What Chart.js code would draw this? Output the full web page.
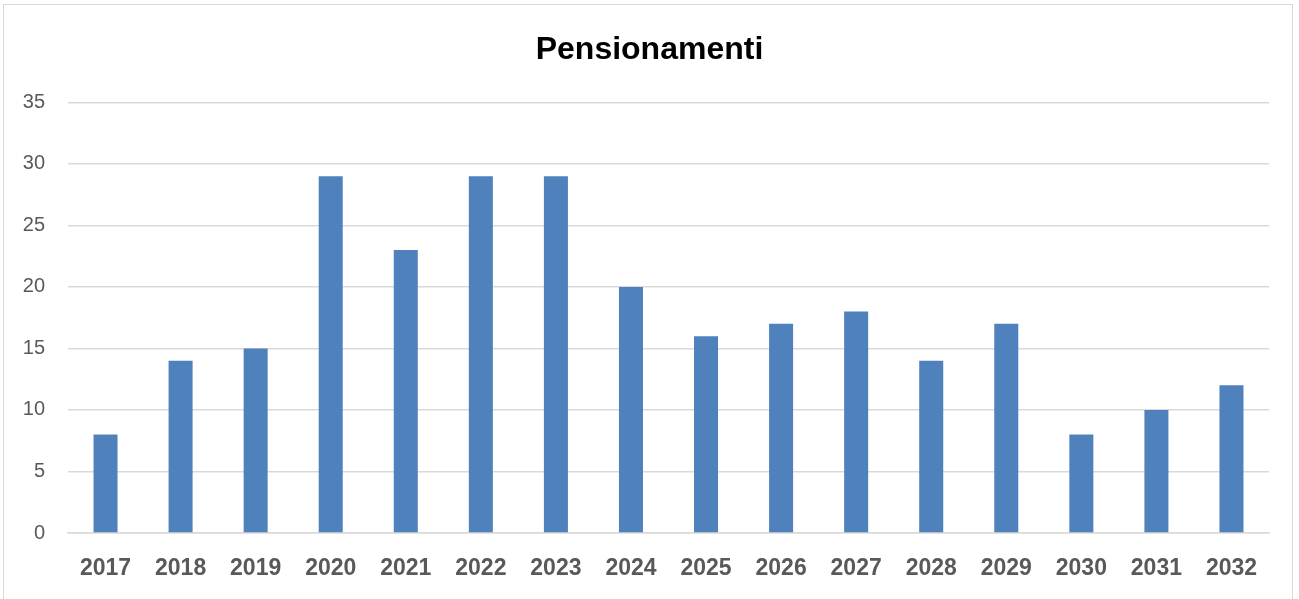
<!DOCTYPE html>
<html>
<head>
<meta charset="utf-8">
<script src="https://cdn.jsdelivr.net/npm/chart.js@4/dist/chart.umd.min.js"></script>
<style>
    html, body { margin: 0; padding: 0; background: #fff; overflow: hidden; }
    #wrap { position: relative; width: 1299px; height: 599px; }
    #frame { position: absolute; left: 3px; top: 4px; width: 1288px; height: 640px; border: 1px solid #d9d9d9; }
    #myChart { position: absolute; left: 0; top: 0; }
</style>
</head>
<body>
<div id="wrap">
    <div id="frame"></div>
    <canvas id="myChart" width="1299" height="599"></canvas>
</div>
<script>
/* data
 -----------------------------------------------*/
let years = ['2017', '2018', '2019', '2020', '2021', '2022', '2023', '2024',
    '2025', '2026', '2027', '2028', '2029', '2030', '2031', '2032'];
let pensionamenti = [8, 14, 15, 29, 23, 29, 29, 20, 16, 17, 18, 14, 17, 8, 10, 12];
let yTicks = [0, 5, 10, 15, 20, 25, 30, 35];

let ctx = document.getElementById('myChart').getContext('2d');
let myChart = new Chart(ctx, {
    type: 'bar',
    data: {
        labels: years,
        datasets: [{
            label: 'Pensionamenti',
            data: pensionamenti,
            backgroundColor: '#4f81bd',
            categoryPercentage: 1,
            barPercentage: 0.32
        }]
    },
    options: {
        responsive: false,
        animation: false,
        layout: {padding: 0},
        plugins: {
            legend: {display: false},
            tooltip: {enabled: false},
            title: {
                display: true,
                text: 'Pensionamenti',
                color: '#000',
                font: {family: 'Liberation Sans', size: 32, weight: 'bold'},
                padding: {top: 31, bottom: 33}
            }
        },
        scales: {
            x: {
                grid: {display: false, drawTicks: false},
                border: {color: '#d9d9d9', width: 1.5},
                ticks: {
                    color: '#595959',
                    font: {family: 'Liberation Sans', size: 23, weight: 'bold'},
                    padding: 22,
                    maxRotation: 0
                },
                afterFit: function (scale) { scale.height = 66; }
            },
            y: {
                min: 0,
                max: 35,
                afterBuildTicks: function (scale) {
                    scale.ticks = yTicks.map(function (v) { return {value: v}; });
                },
                grid: {color: '#d9d9d9', lineWidth: 1.5, drawTicks: false},
                border: {display: false},
                ticks: {
                    color: '#595959',
                    font: {family: 'Liberation Sans', size: 20},
                    padding: 23
                },
                afterFit: function (scale) { scale.width = 68; }
            },
            // empty axis on the right, only keeps space so the title stays centred
            yRight: {
                position: 'right',
                min: 0,
                max: 35,
                grid: {display: false, drawTicks: false},
                border: {display: false},
                ticks: {display: false},
                afterFit: function (scale) { scale.width = 30; }
            }
        }
    }
});
</script>
</body>
</html>
